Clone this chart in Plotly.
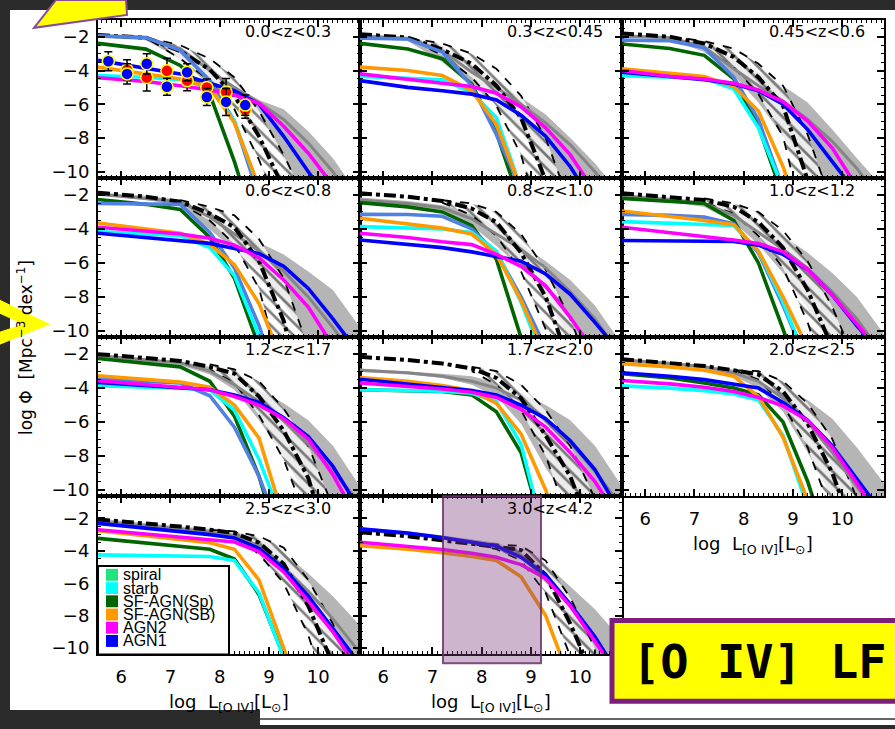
import plotly.graph_objects as go

W, H = 895, 729

# luminosity grid (log L[O IV] / Lsun) shared by every curve
LOG_L = [5.53, 6.5, 7.2, 7.8, 8.3, 8.8, 9.3, 9.8, 10.3, 10.85]

Z_BINS = ["0.0<z<0.3", "0.3<z<0.45", "0.45<z<0.6", "0.6<z<0.8", "0.8<z<1.0",
          "1.0<z<1.2", "1.2<z<1.7", "1.7<z<2.0", "2.0<z<2.5", "2.5<z<3.0",
          "3.0<z<4.2"]

N = None

# observed LF: centre (dashed) and upper/lower envelope (hatched)
obs_lf = [
    [-1.9, -2.05, -2.85, -3.95, -5.5, -7.9, -11.0, N, N, N],
    [-1.85, -2.05, -2.75, -3.6, -4.9, -6.8, -10.5, N, N, N],
    [-1.8, -2.0, -2.4, -3.2, -4.4, -6.1, -10.5, N, N, N],
    [-1.86, -2.1, -2.4, -3.1, -3.9, -5.9, -9.4, -15, N, N],
    [-1.9, -2.1, -2.35, -2.8, -3.6, -5.4, -8.0, -12, N, N],
    [-1.9, -2.1, -2.3, -2.7, -3.6, -5.1, -7.6, -11, N, N],
    [-2.0, -2.2, -2.4, -2.75, -3.15, -4.5, -6.5, -9.3, -14, N],
    [-2.16, -2.35, -2.55, -2.85, -3.4, -4.6, -6.8, -9.2, -13, N],
    [-2.3, -2.5, -2.7, -2.95, -3.2, -4.2, -6.1, -9.0, -13, N],
    [-2.06, -2.3, -2.5, -2.7, -2.9, -3.5, -4.8, -7.4, -11, N],
    [-2.85, -3.1, -3.35, -3.55, -3.75, -3.95, -5.5, -8.5, -12, N],
]
obs_hi = [
    [N, -2.05, -2.5, -3.3, -4.4, -6.4, -9.0, -12.0, N, N],
    [N, -2.05, -2.4, -3.0, -3.9, -5.5, -8.0, -12, N, N],
    [N, -2.0, -2.25, -2.7, -3.6, -4.9, -7.8, -12, N, N],
    [N, N, -2.3, -2.7, -3.2, -4.6, -6.9, -11, N, N],
    [N, N, -2.3, -2.5, -3.0, -4.3, -6.4, -9.3, -13, N],
    [N, N, -2.2, -2.5, -3.0, -4.1, -5.9, -8.6, -12, N],
    [N, N, N, -2.6, -2.9, -3.6, -5.2, -7.4, -11, N],
    [N, N, N, -2.75, -3.0, -3.8, -5.3, -7.4, -10.5, N],
    [N, N, N, -2.95, -3.0, -3.6, -4.9, -7.0, -10.5, N],
    [N, N, N, -2.7, -2.8, -3.1, -3.8, -5.8, -8.5, -13],
    [N, N, N, -3.55, -3.6, -3.7, -4.6, -6.9, -10, N],
]
obs_lo = [
    [N, -2.05, -3.3, -4.6, -6.3, -9.3, -13.0, -16.0, N, N],
    [N, -2.05, -3.1, -4.4, -6.1, -9.0, -14, -18, N, N],
    [N, -2.0, -2.7, -3.8, -5.4, -7.9, -14, -18, N, N],
    [N, N, -2.5, -3.5, -4.9, -7.5, -13, -17, N, N],
    [N, N, -2.45, -3.2, -4.4, -6.5, -9.9, -15, -18, N],
    [N, N, -2.45, -3.1, -4.4, -6.3, -9.5, -14, -18, N],
    [N, N, N, -2.9, -3.7, -5.6, -8.2, -12, -16, N],
    [N, N, N, -3.0, -3.8, -5.3, -8.0, -12, -16, N],
    [N, N, N, -2.95, -3.5, -5.0, -7.5, -11.5, -16, N],
    [N, N, N, -2.7, -3.1, -4.2, -6.0, -9.2, -14, -18],
    [N, N, N, -3.55, -3.9, -4.6, -6.6, -10.5, -15, N],
]

# model total LF: range (grey band) and median (grey line)
model_hi = [
    [-1.9, -2.1, -2.7, -3.95, -4.9, -5.75, -6.3, -7.6, -9.2, -11.5],
    [-1.85, -2.0, -2.5, -3.6, -4.6, -5.6, -6.6, -8.0, -9.5, -11.5],
    [-1.85, -2.0, -2.45, -3.3, -4.1, -4.9, -5.9, -7.5, -9.2, -11],
    [-1.85, -2.05, -2.3, -3.0, -4.0, -4.8, -5.5, -6.5, -7.6, -9.8],
    [-2.15, -2.35, -2.6, -3.0, -3.9, -4.9, -5.9, -7.0, -8.5, -10.8],
    [-1.95, -2.15, -2.4, -2.9, -3.6, -4.4, -5.4, -6.6, -8.0, -10.2],
    [-2.0, -2.25, -2.45, -2.75, -3.3, -4.1, -4.9, -5.9, -7.4, -9.8],
    [-2.85, -3.0, -3.15, -3.3, -3.7, -4.3, -5.0, -5.9, -7.4, -9.8],
    [-2.25, -2.45, -2.65, -2.9, -3.3, -4.0, -4.7, -5.8, -7.5, -9.6],
    [-2.0, -2.3, -2.5, -2.65, -2.8, -3.2, -4.1, -5.4, -6.8, -8.6],
    [-2.55, -2.8, -3.05, -3.3, -3.5, -4.0, -4.8, -6.2, -7.6, -9.5],
]
model_lo = [
    [-2.05, -2.2, -3.3, -4.9, -5.7, -6.5, -9.3, -13, -16, -18],
    [-2.1, -2.25, -3.5, -4.9, -6.0, -7.5, -10.0, -13, -16, -18],
    [-2.05, -2.15, -2.9, -4.3, -5.9, -7.9, -10, -13, -16, -18],
    [-2.0, -2.3, -2.6, -4.0, -5.2, -6.4, -8.4, -10.7, -14, -17],
    [-2.4, -2.6, -2.9, -3.8, -5.0, -6.3, -8.0, -10.5, -14, -17],
    [-2.15, -2.4, -2.7, -3.6, -4.9, -6.6, -8.7, -11, -14, -17],
    [-2.2, -2.45, -2.65, -3.2, -4.1, -5.9, -8.0, -10.6, -14, -17],
    [-3.05, -3.2, -3.4, -3.8, -4.5, -6.1, -8.7, -10.8, -14, -17],
    [-2.45, -2.65, -2.85, -3.3, -4.0, -5.4, -7.8, -10.5, -14, -17],
    [-2.4, -2.65, -2.85, -3.05, -3.3, -4.2, -5.9, -7.6, -9.6, -12],
    [-2.8, -3.05, -3.3, -3.6, -3.9, -4.6, -6.0, -8.5, -11, -14],
]
model_tot = [
    [-1.95, -2.05, -2.7, -4.0, -5.0, -5.9, -6.9, -8.3, -10.0, -12.5],
    [-1.95, -2.1, -2.8, -4.1, -5.0, -6.0, -7.1, -8.4, -10.0, -12],
    [-1.95, -2.05, -2.6, -3.9, -4.9, -5.8, -6.9, -8.2, -9.8, -12],
    [-1.95, -2.2, -2.4, -3.3, -4.3, -5.3, -6.5, -8.0, -9.8, -12],
    [-2.3, -2.5, -2.75, -3.4, -4.3, -5.2, -6.3, -7.7, -9.3, -11.5],
    [-2.05, -2.3, -2.5, -3.2, -4.2, -5.2, -6.3, -7.7, -9.3, -11.5],
    [-2.1, -2.35, -2.5, -3.0, -3.8, -4.8, -5.9, -7.3, -8.9, -10.8],
    [-2.95, -3.1, -3.3, -3.6, -4.0, -4.7, -5.8, -7.2, -8.9, -11],
    [-2.35, -2.55, -2.75, -3.1, -3.6, -4.6, -6.0, -7.8, -9.8, -12],
    [-2.2, -2.45, -2.65, -2.85, -3.05, -3.7, -5.0, -6.5, -8.2, -10.3],
    [-2.7, -2.95, -3.2, -3.45, -3.7, -4.3, -5.4, -7.3, -9.3, -11.8],
]

# model populations
spiral = [
    [-1.95, -2.05, -2.8, -4.6, -7.0, -11.5, N, N, N, N],
    [-2.08, -2.13, -2.9, -4.9, -7.8, -11, N, N, N, N],
    [-2.2, -2.24, -2.65, -4.4, -6.9, -11, N, N, N, N],
    [-2.5, -2.5, -2.55, -4.2, -6.3, -9.7, -14, N, N, N],
    [-3.14, -3.15, -3.25, -4.0, -5.4, -8.0, -11, N, N, N],
    [-3.14, -3.2, -3.3, -3.7, -5.4, -8.5, -12, N, N, N],
    [-3.47, -3.58, -3.7, -4.45, -6.3, -9.2, -13, N, N, N],
    [N] * 10, [N] * 10, [N] * 10, [N] * 10,
]
starb = [
    [-4.3, -4.4, -4.55, -5.0, -7.0, -11.0, N, N, N, N],
    [-4.35, -4.45, -4.55, -5.3, -6.8, -11, N, N, N, N],
    [-4.3, -4.37, -4.45, -5.1, -7.4, -11, N, N, N, N],
    [-4.15, -4.3, -4.4, -5.1, -6.75, -10.3, -14, N, N, N],
    [-3.86, -3.93, -4.0, -4.2, -5.3, -8.3, -12, N, N, N],
    [-3.57, -3.65, -3.7, -3.8, -5.3, -8.3, -12, N, N, N],
    [-3.86, -3.93, -4.0, -4.1, -5.3, -8.2, -12, N, N, N],
    [-4.1, -4.15, -4.18, -4.3, -4.8, -7.3, -13, N, N, N],
    [-3.87, -4.0, -4.15, -4.35, -4.7, -6.8, -11, N, N, N],
    [-4.25, -4.27, -4.3, -4.35, -4.6, -6.6, -10.6, N, N, N],
    [N] * 10,
]
sf_agn_sp = [
    [-2.39, -2.73, -3.7, -5.4, -9.4, -14, N, N, N, N],
    [-2.39, -2.72, -3.3, -4.8, -7.7, -12, N, N, N, N],
    [-2.43, -2.7, -3.1, -4.5, -7.3, -11.5, N, N, N, N],
    [-2.26, -2.55, -2.85, -4.5, -6.9, -10.8, -15, N, N, N],
    [-2.45, -2.7, -3.0, -3.8, -5.8, -10.5, -15, N, N, N],
    [-2.2, -2.35, -2.5, -3.5, -6.0, -9.9, -14, N, N, N],
    [-2.26, -2.55, -2.75, -3.6, -5.65, -9.2, -14, N, N, N],
    [-4.1, -4.15, -4.2, -4.4, -5.4, -7.8, -13, N, N, N],
    [-3.15, -3.4, -3.7, -4.0, -4.4, -6.0, -9.5, -14, N, N],
    [-3.23, -3.5, -3.75, -3.9, -4.5, -6.7, -10.5, N, N, N],
    [N] * 10,
]
sf_agn_sb = [
    [-3.8, -4.2, -4.5, -5.0, -7.1, -10.9, N, N, N, N],
    [-3.8, -4.0, -4.3, -5.2, -7.2, -11, N, N, N, N],
    [-3.9, -4.15, -4.35, -4.95, -6.4, -9.7, -14, N, N, N],
    [-3.65, -4.0, -4.25, -4.9, -6.1, -8.4, -12, N, N, N],
    [-3.37, -3.7, -3.95, -4.3, -5.5, -8.2, -11.5, N, N, N],
    [-2.94, -3.25, -3.5, -3.75, -5.3, -8.0, -11, N, N, N],
    [-3.27, -3.5, -3.65, -3.95, -5.0, -6.95, -11.7, N, N, N],
    [-3.38, -3.6, -3.85, -4.15, -4.9, -6.7, -10.0, -14, N, N],
    [-2.56, -2.75, -2.95, -3.3, -4.5, -6.9, -10.6, N, N, N],
    [-2.75, -3.05, -3.3, -3.5, -3.9, -5.8, -10.0, -14, N, N],
    [-3.68, -3.9, -4.12, -4.35, -4.6, -5.6, -8.0, -12, N, N],
]
agn2 = [
    [-4.43, -4.65, -4.9, -5.15, -5.45, -5.95, -7.3, -8.9, -10.8, N],
    [-4.2, -4.55, -4.75, -4.95, -5.35, -6.15, -7.4, -9.0, -11.2, N],
    [-4.0, -4.35, -4.5, -4.75, -5.15, -5.85, -7.0, -8.6, -10.9, N],
    [-3.9, -4.15, -4.3, -4.55, -4.95, -5.7, -7.0, -8.6, -10.9, N],
    [-4.25, -4.5, -4.75, -4.92, -5.5, -6.2, -7.35, -9.2, -11.3, N],
    [-3.9, -4.2, -4.45, -4.65, -4.85, -5.35, -6.4, -7.9, -9.6, -11.5],
    [-3.57, -3.8, -3.95, -4.1, -4.5, -5.0, -5.8, -7.0, -9.1, -12],
    [-3.7, -3.9, -4.05, -4.25, -4.55, -5.25, -6.3, -7.8, -9.5, -12],
    [-3.55, -3.75, -3.95, -4.2, -4.55, -5.05, -5.9, -7.5, -9.6, -12],
    [-2.7, -2.95, -3.15, -3.3, -3.45, -4.05, -5.3, -7.1, -9.0, -11.5],
    [-3.47, -3.7, -3.92, -4.15, -4.4, -4.85, -5.7, -7.4, -9.5, -12],
]
agn1 = [
    [-3.4, -3.85, -4.2, -4.75, -5.2, -6.0, -7.9, -10.0, -12, N],
    [-4.6, -5.0, -5.2, -5.4, -5.75, -6.65, -7.9, -9.7, -12, N],
    [-4.1, -4.35, -4.55, -4.8, -5.2, -6.0, -7.5, -9.4, -11.3, N],
    [-4.25, -4.5, -4.7, -4.85, -5.15, -5.45, -6.2, -7.5, -9.3, -11.4],
    [-4.65, -4.9, -5.1, -5.35, -5.6, -5.9, -6.65, -7.85, -9.5, -11.4],
    [-4.68, -4.69, -4.71, -4.74, -4.95, -5.5, -6.4, -7.9, -9.7, -11.5],
    [-3.67, -3.85, -3.98, -4.1, -4.4, -4.85, -5.75, -6.85, -8.6, -11.2],
    [-3.48, -3.75, -3.95, -4.15, -4.4, -5.0, -5.8, -7.1, -8.8, -11.5],
    [-3.1, -3.3, -3.5, -3.75, -4.0, -4.85, -5.9, -7.4, -9.3, -11.5],
    [-2.3, -2.6, -2.8, -3.0, -3.2, -3.85, -5.1, -6.8, -8.8, -11],
    [-2.64, -2.9, -3.17, -3.45, -3.7, -4.4, -5.5, -7.3, -9.3, -12],
]

# local data points (lowest redshift bin)
pts_blue_x = [5.74, 6.12, 6.52, 6.93, 7.34, 7.74, 8.13, 8.52]
pts_blue_y = [-3.45, -4.2, -3.6, -4.96, -4.1, -5.57, -5.86, -6.05]
pts_blue_err = [0.56, 0.6, 0.6, 0.5, 0.5, 0.5, 0.8, 0.6]
pts_red_x = [6.12, 6.52, 6.93, 7.34, 7.74, 8.13, 8.52]
pts_red_y = [-3.96, -4.41, -4.02, -4.6, -5.0, -5.27, -6.33]
pts_red_err = [0.6, 0.8, 0.75, 0.6, 0.5, 0.8, 0.5]

LEGEND_NAMES = ["spiral", "starb", "SF-AGN(Sp)", "SF-AGN(SB)", "AGN2", "AGN1"]
LEGEND_COLORS = ["#22e27c", "#00ffff", "#006400", "#ff9900", "#ff00ff", "#0000ff"]

C_SPIRAL = "#4f80e2"
C_STARB = "#00ffff"
C_SFSP = "#006400"
C_SFSB = "#ff9900"
C_AGN2 = "#ff00ff"
C_AGN1 = "#0000ff"

FONT = "DejaVu Sans, Liberation Sans, sans-serif"
FONT_LEG = "Liberation Sans, Arial, sans-serif"

# panel frame positions in pixels
COL_PX = [(98, 360), (360, 622), (622, 884)]
ROW_PX = [(20, 179), (179, 339), (339, 499), (499, 658)]
ROW_YRANGE = [[-10.37, -1.0], [-10.37, -1.0], [-10.37, -1.0], [-10.39, -0.63]]
X_RANGE = [5.53, 10.85]


def fx(px):
    return px / W


def fy(py):
    return 1 - py / H


def band(hi, lo):
    idx = [i for i in range(len(LOG_L)) if hi[i] is not None and lo[i] is not None]
    xs = [LOG_L[i] for i in idx] + [LOG_L[i] for i in reversed(idx)]
    ys = [hi[i] for i in idx] + [lo[i] for i in reversed(idx)]
    return xs, ys


fig = go.Figure()
layout = {}
annotations = []
shapes = []

for k, zlabel in enumerate(Z_BINS):
    r, c = divmod(k, 3)
    sfx = "" if k == 0 else str(k + 1)
    xa, ya = "x" + sfx, "y" + sfx

    # model range band
    bx, by = band(model_hi[k], model_lo[k])
    fig.add_trace(go.Scatter(x=bx, y=by, xaxis=xa, yaxis=ya, mode="lines",
                             fill="toself", fillcolor="#b5b5b5",
                             line=dict(width=0), hoverinfo="skip", showlegend=False))
    # observed uncertainty (hatched)
    hx, hy = band(obs_hi[k], obs_lo[k])
    fig.add_trace(go.Scatter(x=hx, y=hy, xaxis=xa, yaxis=ya, mode="lines",
                             fill="toself", fillcolor="rgba(255,255,255,0.75)",
                             fillpattern=dict(shape="\\", fgcolor="black",
                                              size=9, solidity=0.3, fillmode="overlay"),
                             line=dict(color="black", width=1.8, dash="dash"),
                             hoverinfo="skip", showlegend=False))
    # total model
    fig.add_trace(go.Scatter(x=LOG_L, y=model_tot[k], xaxis=xa, yaxis=ya, mode="lines",
                             line=dict(color="#858585", width=3), showlegend=False))
    # observed centre
    fig.add_trace(go.Scatter(x=LOG_L, y=obs_lf[k], xaxis=xa, yaxis=ya, mode="lines",
                             line=dict(color="black", width=4, dash="dashdot"),
                             showlegend=False))
    for series, col in [(sf_agn_sp, C_SFSP), (spiral, C_SPIRAL), (starb, C_STARB),
                        (sf_agn_sb, C_SFSB), (agn1, C_AGN1), (agn2, C_AGN2)]:
        if all(v is None for v in series[k]):
            continue
        fig.add_trace(go.Scatter(x=LOG_L, y=series[k], xaxis=xa, yaxis=ya, mode="lines",
                                 line=dict(color=col, width=3.6), showlegend=False))

    if k == 0:
        for px_, py_, pe, col in [(pts_red_x, pts_red_y, pts_red_err, "#ff0000"),
                                  (pts_blue_x, pts_blue_y, pts_blue_err, "#0000ff")]:
            fig.add_trace(go.Scatter(
                x=px_, y=py_, xaxis=xa, yaxis=ya, mode="markers",
                marker=dict(size=12, color=col, line=dict(color="#ffff00", width=1.5)),
                error_y=dict(type="data", array=pe, color="black", thickness=1.5, width=4),
                showlegend=False))

    x0, x1 = COL_PX[c]
    y0, y1 = ROW_PX[r]
    show_x = k in (8, 9, 10)
    show_y = c == 0
    common = dict(showline=True, linecolor="black", linewidth=2, mirror="allticks",
                  ticks="inside", tickcolor="black", tickwidth=1.5, ticklen=7,
                  showgrid=False, zeroline=False,
                  tickfont=dict(family=FONT, size=18, color="black"))
    layout["xaxis" + sfx] = dict(
        domain=[fx(x0), fx(x1)], range=X_RANGE, anchor=ya,
        tickmode="linear", tick0=0, dtick=1, showticklabels=show_x,
        ticklabelstandoff=5,
        minor=dict(ticks="inside", ticklen=3, tickwidth=1, tickcolor="black",
                   dtick=0.1, tick0=0),
        **common)
    layout["yaxis" + sfx] = dict(
        domain=[fy(y1), fy(y0)], range=ROW_YRANGE[r], anchor=xa,
        tickmode="linear", tick0=0, dtick=2, showticklabels=show_y,
        ticklabelstandoff=3,
        minor=dict(ticks="inside", ticklen=3, tickwidth=1, tickcolor="black",
                   dtick=0.5, tick0=0),
        **common)

    annotations.append(dict(
        text=zlabel.replace("<", "&lt;"), xref=xa + " domain", yref=ya + " domain",
        x=145 / 262, y=1 - 12 / 159, xanchor="left", yanchor="middle",
        showarrow=False, font=dict(family=FONT, size=16, color="black")))

    if show_x:
        annotations.append(dict(
            text="log  L<sub>[O IV]</sub>[L<sub>⊙</sub>]",
            xref="paper", yref="paper", x=fx((x0 + x1) / 2), y=fy(y1 + 49),
            xanchor="center", yanchor="middle", showarrow=False,
            font=dict(family=FONT, size=18, color="black")))

# y axis title
annotations.append(dict(
    text="log Φ  [Mpc<sup>−3</sup> dex<sup>−1</sup>]", xref="paper", yref="paper",
    x=fx(25), y=fy(350), textangle=-90, xanchor="center", yanchor="middle",
    showarrow=False, font=dict(family=FONT, size=17, color="black")))

# slide background
shapes.append(dict(type="rect", xref="paper", yref="paper", layer="below",
                   x0=fx(10), x1=fx(895), y0=fy(714), y1=fy(10),
                   fillcolor="white", line=dict(width=0)))
shapes.append(dict(type="rect", xref="paper", yref="paper", layer="below",
                   x0=fx(260), x1=fx(895), y0=fy(729), y1=fy(714),
                   fillcolor="white", line=dict(width=0)))
shapes.append(dict(type="line", xref="paper", yref="paper", layer="below",
                   x0=fx(260), x1=fx(895), y0=fy(723), y1=fy(723),
                   line=dict(color="#333333", width=1.5)))

# legend box in the 2.5<z<3.0 panel
lx0, lx1, ly0, ly1 = 98, 229, 569, 658
shapes.append(dict(type="rect", xref="paper", yref="paper", layer="above",
                   x0=fx(lx0), x1=fx(lx1), y0=fy(ly1), y1=fy(ly0),
                   fillcolor="white", line=dict(color="black", width=2)))
for i, (name, col) in enumerate(zip(LEGEND_NAMES, LEGEND_COLORS)):
    cy = 578 + i * 13.3
    shapes.append(dict(type="rect", xref="paper", yref="paper", layer="above",
                       x0=fx(106), x1=fx(118), y0=fy(cy + 6), y1=fy(cy - 6),
                       fillcolor=col, line=dict(width=0)))
    annotations.append(dict(text=name, xref="paper", yref="paper",
                            x=fx(121), y=fy(cy), xanchor="left", yanchor="middle",
                            showarrow=False,
                            font=dict(family=FONT_LEG, size=16, color="black")))

# highlighted luminosity window in the highest-redshift bin
shapes.append(dict(type="rect", xref="paper", yref="paper", layer="above",
                   x0=fx(443), x1=fx(541), y0=fy(667), y1=fy(499),
                   fillcolor="rgba(125,60,125,0.38)",
                   line=dict(color="rgba(105,50,105,0.85)", width=2)))

# label box
shapes.append(dict(type="rect", xref="paper", yref="paper", layer="above",
                   x0=fx(612), x1=fx(905), y0=fy(705), y1=fy(624),
                   fillcolor="#ffff00", line=dict(color="#7b1f7b", width=5)))
annotations.append(dict(text="<b>[O IV] LF</b>", xref="paper", yref="paper",
                        x=fx(630), y=fy(665), xanchor="left", yanchor="middle",
                        showarrow=False,
                        font=dict(family="DejaVu Sans Mono", size=47, color="black")))


def path(points):
    s = "M " + " L ".join(f"{fx(a):.5f},{fy(b):.5f}" for a, b in points)
    return s + " Z"


# callout arrows
shapes.append(dict(type="path", xref="paper", yref="paper", layer="above",
                   path=path([(34, 28), (56, 0), (126, 0), (127, 15)]),
                   fillcolor="#ffff00", line=dict(color="#8a4a9a", width=2)))
shapes.append(dict(type="path", xref="paper", yref="paper", layer="above",
                   path=path([(0, 302), (49, 326), (0, 346), (0, 334), (24, 326), (0, 315)]),
                   fillcolor="#ffff00", line=dict(color="#ffff00", width=1)))

fig.update_layout(
    width=W, height=H, margin=dict(l=0, r=0, t=0, b=0),
    paper_bgcolor="#2b2b2b", plot_bgcolor="rgba(0,0,0,0)",
    showlegend=False, annotations=annotations, shapes=shapes, **layout)

fig.write_html("out.html")
